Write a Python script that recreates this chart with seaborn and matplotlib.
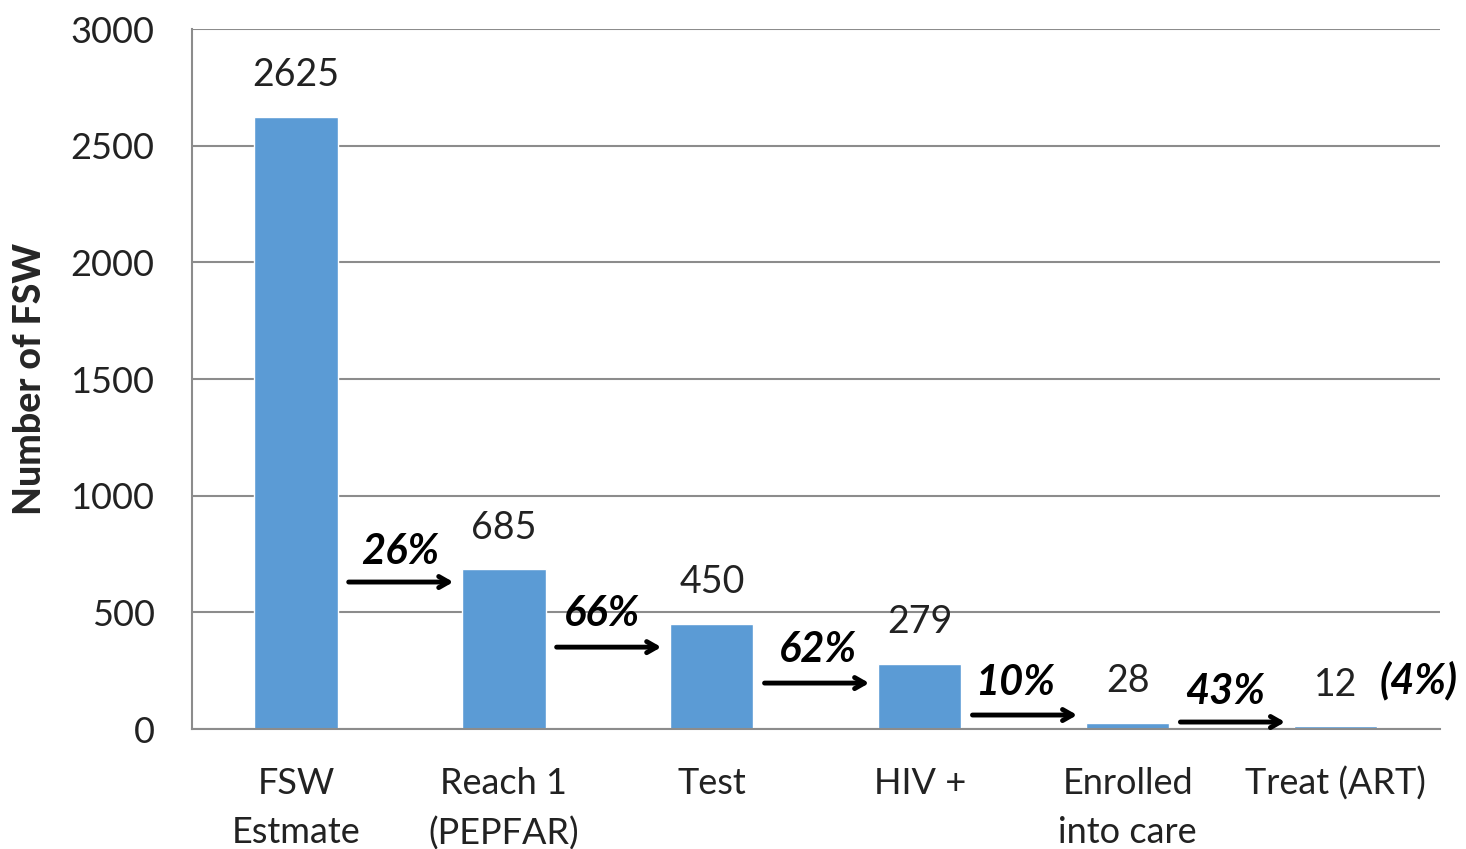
import seaborn as sns
import matplotlib.pyplot as plt

# cascade data
categories = ["FSW\nEstmate", "Reach 1\n(PEPFAR)", "Test", "HIV +", "Enrolled\ninto care", "Treat (ART)"]
values = [2625, 685, 450, 279, 28, 12]
step_pct = ["26%", "66%", "62%", "10%", "43%"]
final_pct = "(4%)"

# where the step arrows sit (data units, layout only)
arrow_y = [630, 351, 197, 60, 30]
pct_y = [759, 493, 339, 197, 159]
pct_dx = [0.0, -0.03, 0.01, -0.04, -0.03]

sns.set_style("white")
plt.rcParams["font.family"] = ["Lato", "DejaVu Sans"]

bar_color = "#5B9BD5"
grid_color = "#8C8C8C"
text_color = "#222222"

fig = plt.figure(figsize=(14.66, 8.49), dpi=100)
ax = fig.add_axes([0.131, 0.1413, 0.851, 0.8245])

sns.barplot(x=categories, y=values, color=bar_color, width=0.4, saturation=1, ax=ax)

ax.set_xlim(-0.5, len(categories) - 0.5)
ax.set_ylim(0, 3000)
ax.set_yticks(range(0, 3001, 500))
ax.yaxis.grid(True, color=grid_color, linewidth=1.5)
ax.set_axisbelow(True)

for side in ["top", "right"]:
    ax.spines[side].set_visible(False)
for side in ["left", "bottom"]:
    ax.spines[side].set_color(grid_color)
    ax.spines[side].set_linewidth(1.5)

ax.tick_params(axis="y", direction="out", length=9, width=1.5, color=grid_color,
               labelsize=26, labelcolor=text_color, pad=18)
ax.tick_params(axis="x", which="major", length=0, labelsize=26, labelcolor=text_color, pad=27)
ax.set_xticks([i - 0.5 for i in range(len(categories) + 1)], minor=True)
ax.tick_params(axis="x", which="minor", direction="out", length=9, width=1.5, color=grid_color)
for lab in ax.get_xticklabels():
    lab.set_linespacing(1.6)
    lab.set_verticalalignment("top")

ax.set_xlabel("")
ax.set_ylabel("Number of FSW", fontsize=27, fontweight="black")
ax.yaxis.set_label_coords(-0.116, 0.5)

# value labels above bars
for i, v in enumerate(values):
    ax.annotate(str(v), (i, v), xytext=(0, 30), textcoords="offset points",
                ha="center", va="center", fontsize=27, color=text_color)

# arrows and step percentages
for i, pct in enumerate(step_pct):
    ax.annotate("", xy=(i + 0.77, arrow_y[i]), xytext=(i + 0.24, arrow_y[i]),
                arrowprops=dict(arrowstyle="->,head_length=0.7,head_width=0.4",
                                color="black", lw=3.5))
    ax.text(i + 0.5 + pct_dx[i], pct_y[i], pct, ha="center", va="center",
            fontsize=30, fontweight="bold", fontstyle="italic", color="black")

last = len(values) - 1
ax.annotate(final_pct, (last, values[last]), xytext=(60, 33), textcoords="offset points",
            ha="center", va="center", fontsize=30, fontweight="bold",
            fontstyle="italic", color="black", annotation_clip=False)

fig.savefig("out.png", dpi=100)
